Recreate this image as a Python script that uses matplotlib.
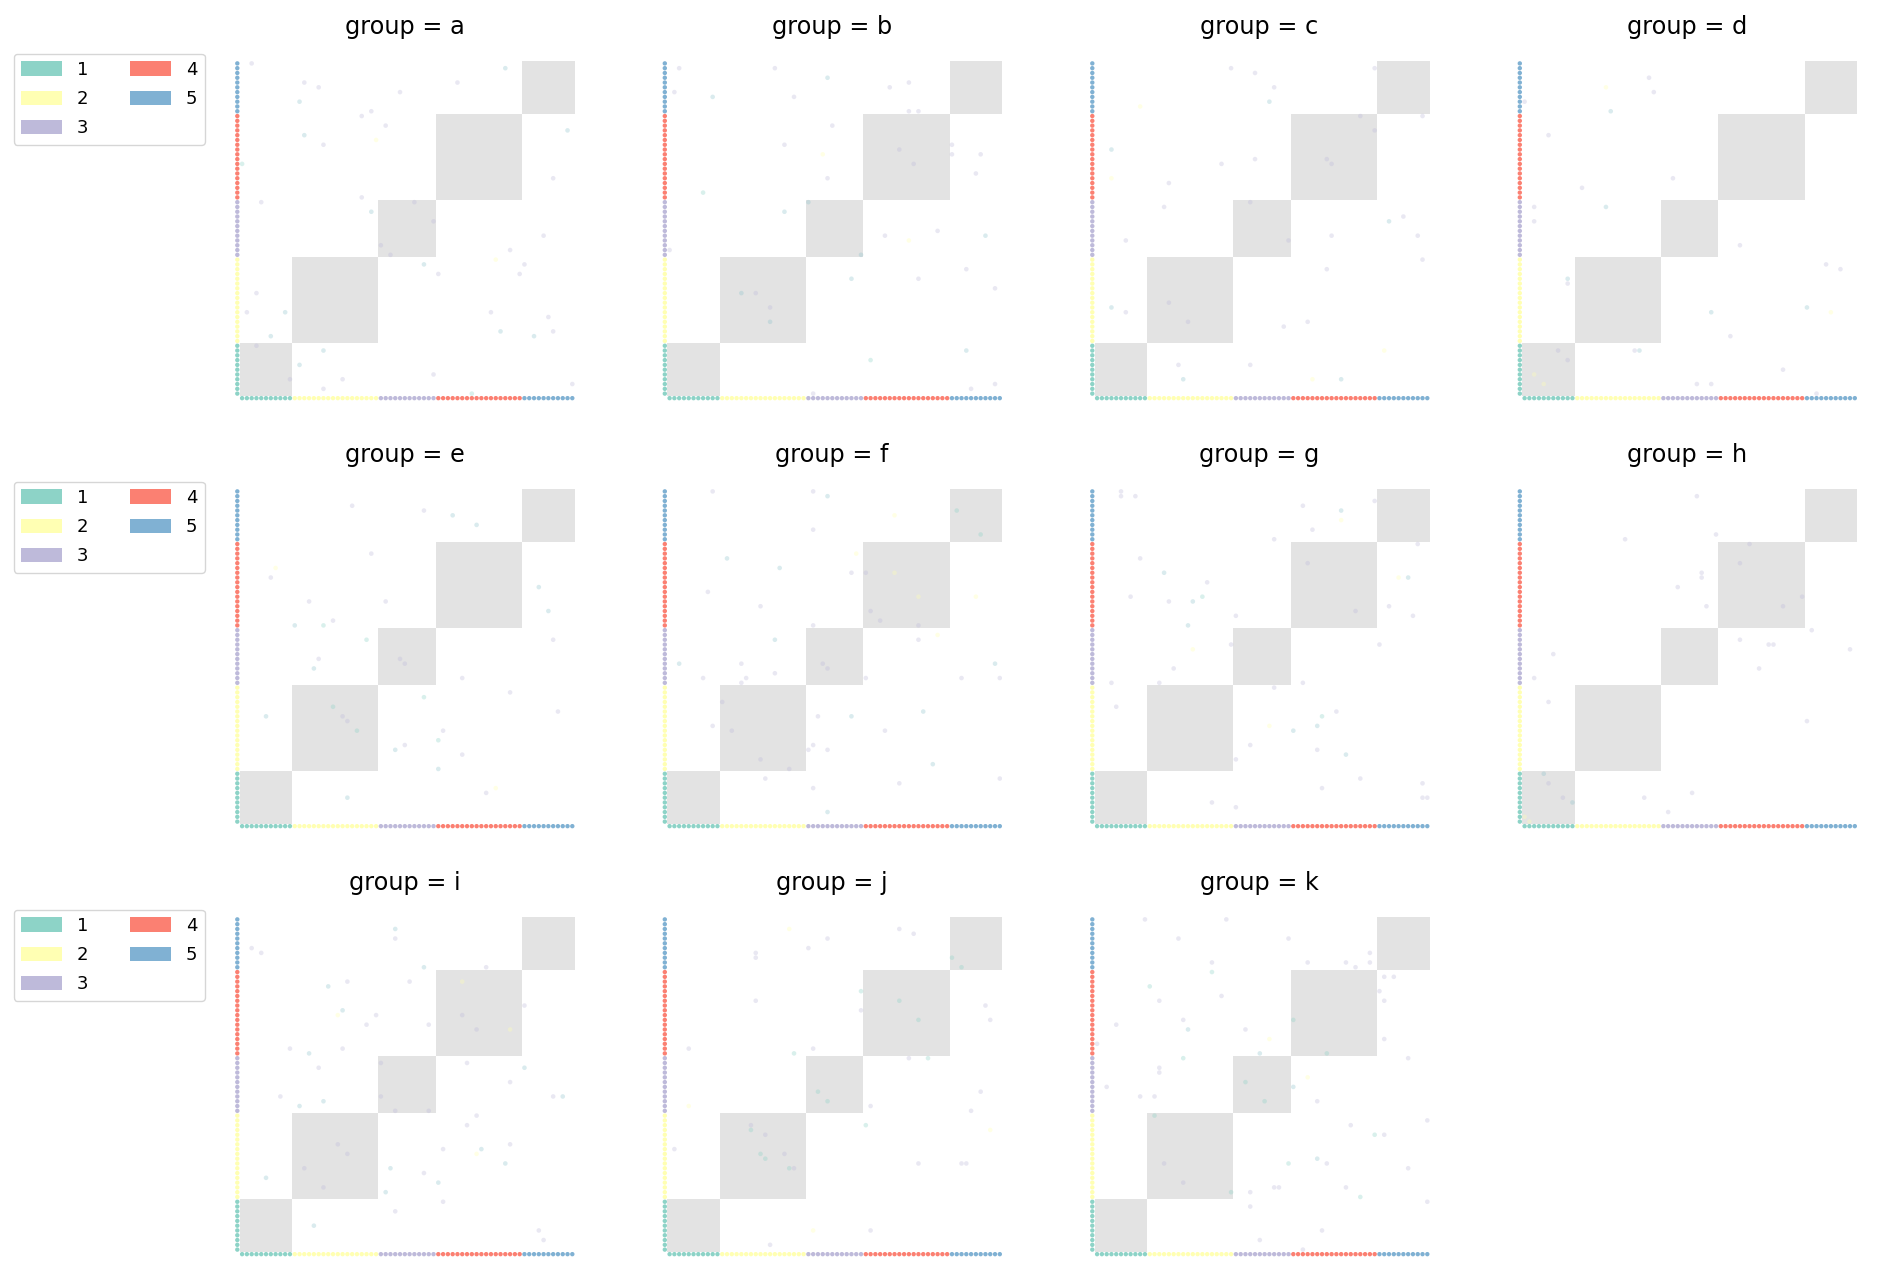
import numpy as np
import matplotlib
matplotlib.use("Agg")
import matplotlib.pyplot as plt
from matplotlib.patches import Rectangle, Patch

# ---------------- data ----------------
community_labels = ["1", "2", "3", "4", "5"]
community_sizes = [11, 18, 12, 18, 11]
community_colors = ["#8dd3c7", "#ffffb3", "#bebada", "#fb8072", "#80b1d3"]
groups = ["a", "b", "c", "d", "e", "f", "g", "h", "i", "j", "k"]

# off-block / extra edges per group: (node_i, node_j, colour key)
edges_a = [(2, 69, 'l'), (55, 68, 'c'), (13, 65, 'l'), (16, 64, 'l'), (45, 65, 'l'), (33, 63, 'l'),
           (12, 61, 'c'), (25, 58, 'l'), (27, 59, 'l'), (30, 56, 'l'), (13, 54, 'c'), (17, 52, 'l'),
           (28, 53, 'y'), (0, 48, 'g'), (25, 41, 'l'), (4, 40, 'l'), (36, 40, 'l'), (27, 38, 'c'),
           (29, 31, 'l'), (3, 21, 'l'), (1, 17, 'l'), (9, 17, 'c'), (6, 12, 'c'), (3, 10, 'l')]
edges_b = [(2, 68, 'l'), (22, 68, 'l'), (33, 66, 'c'), (1, 63, 'l'), (9, 62, 'c'), (26, 62, 'l'),
           (46, 64, 'l'), (50, 65, 'l'), (50, 59, 'l'), (52, 59, 'l'), (34, 56, 'l'), (24, 52, 'l'),
           (32, 50, 'y'), (48, 51, 'l'), (33, 45, 'l'), (7, 42, 'g'), (29, 40, 'c'), (24, 38, 'c'),
           (0, 30, 'l'), (15, 21, 'c'), (18, 21, 'l')]
edges_c = [(28, 68, 'l'), (33, 67, 'l'), (58, 68, 'l'), (37, 64, 'l'), (36, 61, 'c'), (9, 60, 'y'),
           (55, 58, 'l'), (3, 51, 'c'), (33, 49, 'l'), (26, 48, 'l'), (48, 49, 'l'), (3, 45, 'y'),
           (15, 44, 'l'), (32, 40, 'l'), (14, 39, 'l'), (6, 32, 'l'), (3, 18, 'c'), (6, 17, 'l'),
           (15, 19, 'l')]
edges_d = [(26, 66, 'l'), (17, 64, 'y'), (27, 63, 'l'), (0, 61, 'l'), (18, 59, 'c'), (5, 54, 'l'),
           (31, 45, 'l'), (12, 43, 'l'), (2, 39, 'l'), (17, 39, 'c'), (2, 36, 'l'), (9, 24, 'c'),
           (9, 23, 'l'), (7, 9, 'l'), (2, 4, 'y')]
edges_e = [(23, 66, 'l'), (38, 65, 'l'), (44, 64, 'c'), (49, 62, 'c'), (27, 56, 'l'), (7, 53, 'y'),
           (6, 51, 'l'), (14, 46, 'l'), (30, 46, 'l'), (19, 42, 'l'), (11, 41, 'c'), (17, 41, 'g'),
           (26, 38, 'g'), (16, 34, 'l'), (33, 34, 'l'), (15, 32, 'c'), (5, 22, 'c'), (19, 24, 'g'),
           (21, 22, 'l')]
edges_f = [(9, 69, 'l'), (30, 69, 'l'), (33, 68, 'c'), (47, 64, 'y'), (60, 65, 'g'), (30, 61, 'l'),
           (12, 55, 'c'), (39, 56, 'y'), (23, 53, 'c'), (38, 52, 'l'), (41, 52, 'l'), (47, 52, 'y'),
           (8, 48, 'l'), (19, 45, 'l'), (42, 44, 'l'), (30, 41, 'l'), (22, 38, 'c'), (2, 33, 'c'),
           (15, 33, 'l'), (32, 33, 'l'), (22, 31, 'l'), (7, 30, 'l'), (16, 30, 'l'), (15, 29, 'l'),
           (11, 25, 'l'), (9, 20, 'l'), (13, 19, 'l')]
edges_g = [(5, 69, 'l'), (5, 68, 'l'), (8, 68, 'l'), (43, 66, 'l'), (58, 67, 'l'), (51, 65, 'c'),
           (51, 63, 'y'), (45, 61, 'l'), (37, 59, 'l'), (9, 55, 'l'), (44, 54, 'l'), (14, 52, 'c'),
           (23, 50, 'l'), (7, 47, 'l'), (15, 46, 'l'), (20, 46, 'c'), (22, 47, 'g'), (29, 43, 'l'),
           (19, 41, 'c'), (28, 37, 'l'), (20, 36, 'y'), (16, 32, 'l'), (3, 29, 'l'), (13, 29, 'l'),
           (4, 24, 'l')]
edges_h = [(36, 68, 'l'), (21, 59, 'l'), (40, 60, 'l'), (47, 58, 'l'), (45, 54, 'l'), (37, 52, 'l'),
           (37, 51, 'l'), (32, 49, 'l'), (38, 45, 'l'), (6, 35, 'l'), (2, 30, 'l'), (5, 25, 'l'),
           (4, 10, 'c'), (5, 8, 'l'), (0, 1, 'y')]
edges_i = [(32, 67, 'c'), (32, 65, 'l'), (2, 63, 'l'), (4, 62, 'l'), (38, 59, 'c'), (51, 59, 'l'),
           (18, 55, 'c'), (22, 56, 'l'), (35, 56, 'l'), (46, 56, 'y'), (21, 50, 'c'), (20, 49, 'y'),
           (28, 49, 'l'), (26, 47, 'l'), (39, 47, 'l'), (46, 49, 'l'), (10, 42, 'l'), (14, 41, 'c'),
           (21, 42, 'l'), (16, 38, 'l'), (29, 39, 'l'), (8, 32, 'l'), (17, 31, 'c'), (12, 30, 'c'),
           (29, 32, 'l'), (20, 22, 'l'), (5, 15, 'c'), (13, 17, 'l')]
edges_j = [(25, 67, 'y'), (48, 67, 'l'), (51, 66, 'l'), (33, 65, 'l'), (29, 63, 'l'), (18, 62, 'l'),
           (18, 61, 'l'), (59, 61, 'g'), (40, 54, 'g'), (48, 52, 'g'), (18, 52, 'l'), (40, 50, 'l'),
           (4, 42, 'l'), (26, 41, 'g'), (30, 42, 'l'), (31, 33, 'g'), (4, 30, 'y'), (17, 26, 'l'),
           (17, 25, 'g'), (20, 24, 'l'), (1, 21, 'l'), (19, 20, 'g')]
edges_k = [(10, 69, 'l'), (27, 69, 'l'), (17, 65, 'l'), (40, 65, 'l'), (24, 60, 'l'), (24, 58, 'g'),
           (44, 60, 'l'), (52, 60, 'l'), (57, 62, 'l'), (57, 60, 'l'), (54, 59, 'l'), (11, 55, 'g'),
           (26, 53, 'l'), (13, 52, 'l'), (18, 48, 'l'), (4, 47, 'l'), (19, 46, 'c'), (31, 46, 'l'),
           (41, 48, 'g'), (36, 44, 'y'), (0, 43, 'l'), (34, 41, 'c'), (18, 40, 'g'), (13, 38, 'l'),
           (13, 37, 'l'), (2, 34, 'l'), (31, 35, 'g'), (9, 32, 'l'), (12, 32, 'l'), (12, 28, 'g'),
           (14, 18, 'l')]

edge_palette = {'l': '#bebada', 'c': '#8fc4cc', 'g': '#8dd3c7', 'y': '#ffffb3'}

edges_by_group = dict(zip(groups, [edges_a, edges_b, edges_c, edges_d, edges_e, edges_f,
                                   edges_g, edges_h, edges_i, edges_j, edges_k]))

# ---------------- figure ----------------
W, H = 1885, 1285
fig = plt.figure(figsize=(W / 100, H / 100), dpi=100)

n_nodes = sum(community_sizes)
node_comm = np.repeat(np.arange(len(community_sizes)), community_sizes)
node_colors = [community_colors[c] for c in node_comm]
MAT = 335.0          # matrix size in pixels
COL0, COLSTEP = 239.7, 427.5
ROW0, ROWSTEP = 61.0, 428.0

for idx, g in enumerate(groups):
    r, c = divmod(idx, 4)
    L = COL0 + COLSTEP * c
    T = ROW0 + ROWSTEP * r
    ax = fig.add_axes([L / W, 1 - (T + MAT) / H, MAT / W, MAT / H])
    ax.set_xlim(0, n_nodes)
    ax.set_ylim(0, n_nodes)
    ax.axis('off')

    start = 0
    for size in community_sizes:
        ax.add_patch(Rectangle((start, start), size, size, facecolor='#e3e3e3',
                               edgecolor='none', zorder=1))
        start += size

    xs, ys, cols = [], [], []
    for i, j, key in edges_by_group[g]:
        xs += [i + 0.5, j + 0.5]
        ys += [j + 0.5, i + 0.5]
        cols += [edge_palette[key]] * 2
    ax.scatter(xs, ys, s=11, c=cols, alpha=0.33, linewidths=0, zorder=2)

    pos = np.arange(n_nodes) + 0.5
    ax.scatter(np.full(n_nodes, -0.5), pos, s=10, c=node_colors, linewidths=0,
               clip_on=False, zorder=3)
    ax.scatter(pos, np.full(n_nodes, -0.45), s=10, c=node_colors, linewidths=0,
               clip_on=False, zorder=3)

    ax.text(0.492, 1 + 27 / MAT, f"group = {g}", transform=ax.transAxes,
            ha='center', va='baseline', fontsize=17.3)

handles = [Patch(facecolor=col, edgecolor='none') for col in community_colors]
for r in range(3):
    fig.legend(handles, community_labels, loc='upper left',
               bbox_to_anchor=(13.7 / W, 1 - (53.7 + ROWSTEP * r) / H),
               ncol=2, fontsize=13, handlelength=2.3, handleheight=0.87,
               labelspacing=0.62, columnspacing=2.3, borderaxespad=0)

fig.savefig("out.png", dpi=100)
